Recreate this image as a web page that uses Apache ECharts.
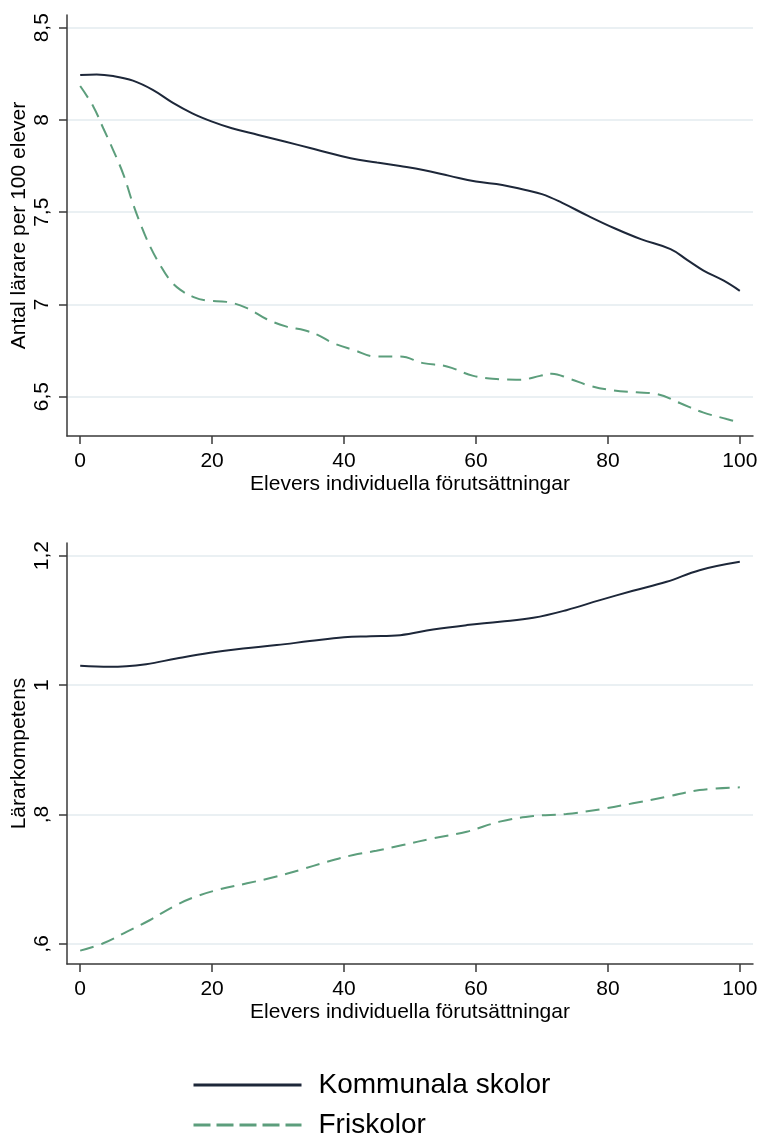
<!DOCTYPE html>
<html>
<head>
<meta charset="utf-8">
<script src="https://cdn.jsdelivr.net/npm/echarts@6/dist/echarts.min.js"></script>
<style>
html,body{margin:0;padding:0;background:#fff;}
#chart{width:760px;height:1139px;}
</style>
</head>
<body>
<div id="chart"></div>
<script>
// ---- Data ----
const seriesNames = ['Kommunala skolor', 'Friskolor'];
const xTitle = 'Elevers individuella förutsättningar';
const yTitleTop = 'Antal lärare per 100 elever';
const yTitleBottom = 'Lärarkompetens';
const xTicks = [0, 20, 40, 60, 80, 100];
const yTicksTop = [6.5, 7, 7.5, 8, 8.5];
const yTicksBottom = [0.6, 0.8, 1, 1.2];

// Top panel: Kommunala skolor
const topKommX = [0, 2.5, 5, 8, 11, 14, 17, 20, 23, 27, 31, 35, 37, 41, 45, 48.5, 52, 56, 60, 64, 67.5, 70, 73, 77, 81, 85, 89.5, 92, 94.5, 97.5, 100];
const topKommY = [8.244, 8.247, 8.238, 8.213, 8.163, 8.094, 8.036, 7.991, 7.955, 7.919, 7.883, 7.847, 7.828, 7.792, 7.769, 7.75, 7.729, 7.697, 7.666, 7.648, 7.62, 7.598, 7.552, 7.48, 7.413, 7.354, 7.30, 7.242, 7.184, 7.13, 7.074];
// Top panel: Friskolor
const topFriX = [0, 2, 3.5, 5, 6.6, 7.8, 9.1, 10.6, 12.1, 13.6, 15.2, 17.2, 19.2, 22.2, 25.3, 28.3, 31.3, 34, 36, 38.4, 41.4, 44.9, 48.5, 52, 55.6, 59.6, 63.6, 66.7, 69.7, 71.5, 74.2, 77.3, 80.8, 84.3, 87.4, 90.9, 94.4, 98, 100];
const topFriY = [8.184, 8.072, 7.955, 7.837, 7.70, 7.567, 7.44, 7.314, 7.215, 7.133, 7.079, 7.04, 7.021, 7.014, 6.98, 6.92, 6.88, 6.86, 6.835, 6.79, 6.754, 6.718, 6.718, 6.682, 6.664, 6.613, 6.595, 6.592, 6.613, 6.625, 6.597, 6.559, 6.534, 6.524, 6.515, 6.466, 6.415, 6.379, 6.36];
// Bottom panel: Kommunala skolor
const botKommX = [0, 4.5, 10, 14.6, 19.7, 24.7, 29.8, 34.8, 40, 44, 48.5, 53.5, 58.6, 63.6, 68.7, 73.7, 78.8, 83.8, 88.9, 93.9, 100];
const botKommY = [1.0298, 1.0283, 1.0324, 1.0412, 1.05, 1.0567, 1.0618, 1.068, 1.074, 1.0755, 1.0772, 1.086, 1.0927, 1.0978, 1.104, 1.1158, 1.1313, 1.1457, 1.1596, 1.1776, 1.1905];
// Bottom panel: Friskolor
const botFriX = [0, 3.5, 7.1, 10.6, 14.1, 17.2, 21.2, 25.3, 29.3, 33.3, 37.4, 41.4, 44.9, 48.9, 53.5, 58.6, 63.6, 68.7, 73.7, 78.8, 83.8, 88.9, 93.9, 100];
const botFriY = [0.5897, 0.601, 0.619, 0.637, 0.6576, 0.672, 0.6845, 0.6937, 0.703, 0.7143, 0.727, 0.7375, 0.744, 0.7529, 0.7632, 0.7734, 0.789, 0.7977, 0.8008, 0.808, 0.8173, 0.8275, 0.8378, 0.842];

// ---- Chart ----
const FONT = '"Liberation Sans", Arial, Helvetica, sans-serif';
const NAVY = '#1d2739';
const GREEN = '#5c9e7c';
const AXIS = '#3a3a3a';
const GRIDC = '#eaf0f3';

function pairs(xs, ys) { return xs.map((x, i) => [x, ys[i]]); }
function fmtY(v) {
  let s = String(+(+v).toFixed(2)).replace('.', ',');
  if (s.startsWith('0,')) s = s.slice(1);
  return s;
}

function xAxisCfg(gridIndex) {
  return {
    type: 'value', gridIndex, min: -2, max: 102,
    name: xTitle, nameLocation: 'middle', nameGap: 38, nameMoveOverlap: false,
    nameTextStyle: { fontFamily: FONT, fontSize: 21, color: '#000' },
    axisLine: { show: true, onZero: false, lineStyle: { color: AXIS, width: 1.5 } },
    axisTick: { show: true, length: 8, customValues: xTicks, lineStyle: { color: AXIS, width: 1.5 } },
    axisLabel: { customValues: xTicks, margin: 15, fontFamily: FONT, fontSize: 21, color: '#000' },
    splitLine: { show: false }
  };
}
function yAxisCfg(gridIndex, min, max, ticks, title) {
  return {
    type: 'value', gridIndex, min, max,
    name: title, nameLocation: 'middle', nameGap: 37, nameRotate: 90, nameMoveOverlap: false,
    nameTextStyle: { fontFamily: FONT, fontSize: 21, color: '#000' },
    axisLine: { show: true, onZero: false, lineStyle: { color: AXIS, width: 1.5 } },
    axisTick: { show: true, length: 8, customValues: ticks, lineStyle: { color: AXIS, width: 1.5 } },
    axisLabel: { customValues: ticks, rotate: 90, margin: 14, fontFamily: FONT, fontSize: 21, color: '#000', formatter: fmtY },
    splitLine: { show: true, lineStyle: { color: GRIDC, width: 2 } }
  };
}

const chart = echarts.init(document.getElementById('chart'), null, { renderer: 'canvas' });
chart.setOption({
  backgroundColor: '#fff',
  animation: false,
  grid: [
    { left: 67, right: 7, top: 15, height: 421, containLabel: false, outerBoundsMode: 'none' },
    { left: 67, right: 7, top: 543, height: 421, containLabel: false, outerBoundsMode: 'none' }
  ],
  xAxis: [xAxisCfg(0), xAxisCfg(1)],
  yAxis: [
    yAxisCfg(0, 6.287, 8.569, yTicksTop, yTitleTop),
    yAxisCfg(1, 0.569, 1.2196, yTicksBottom, yTitleBottom)
  ],
  legend: {
    orient: 'vertical', left: 192, top: 1071, width: 450, height: 140,
    itemWidth: 108, itemHeight: 28, itemGap: 12, padding: 0,
    textStyle: { fontFamily: FONT, fontSize: 28, color: '#000', padding: [0, 0, 0, 12] },
    data: [
      { name: seriesNames[0], lineStyle: { width: 3 }, itemStyle: { opacity: 0 } },
      { name: seriesNames[1], lineStyle: { width: 3, type: [17, 6] }, itemStyle: { opacity: 0 } }
    ]
  },
  series: [
    { name: seriesNames[0], type: 'line', xAxisIndex: 0, yAxisIndex: 0, data: pairs(topKommX, topKommY),
      smooth: 0.4, symbol: 'none', lineStyle: { color: NAVY, width: 2 }, itemStyle: { color: NAVY } },
    { name: seriesNames[1], type: 'line', xAxisIndex: 0, yAxisIndex: 0, data: pairs(topFriX, topFriY),
      smooth: 0.4, symbol: 'none', lineStyle: { color: GREEN, width: 2, type: [14, 8] }, itemStyle: { color: GREEN } },
    { name: seriesNames[0], type: 'line', xAxisIndex: 1, yAxisIndex: 1, data: pairs(botKommX, botKommY),
      smooth: 0.4, symbol: 'none', lineStyle: { color: NAVY, width: 2 }, itemStyle: { color: NAVY } },
    { name: seriesNames[1], type: 'line', xAxisIndex: 1, yAxisIndex: 1, data: pairs(botFriX, botFriY),
      smooth: 0.4, symbol: 'none', lineStyle: { color: GREEN, width: 2, type: [14, 8] }, itemStyle: { color: GREEN } }
  ]
});
</script>
</body>
</html>
